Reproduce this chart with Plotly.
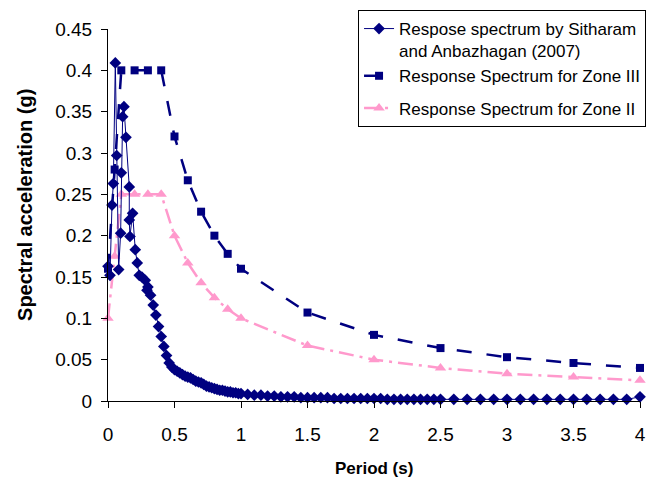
import plotly.graph_objects as go

## periode (s) dan percepatan spektral (g)
t_sitharam = [0.000, 0.015, 0.030, 0.040, 0.055, 0.065, 0.080, 0.095, 0.100, 0.110,
              0.120, 0.135, 0.160, 0.160, 0.165, 0.185, 0.205, 0.220, 0.235, 0.255,
              0.280, 0.293,
              0.30, 0.32, 0.34, 0.36, 0.38, 0.40, 0.42, 0.44, 0.46, 0.48,
              0.50, 0.52, 0.54, 0.56, 0.58, 0.60, 0.62, 0.64, 0.66, 0.68,
              0.70, 0.72, 0.74, 0.76, 0.78, 0.80, 0.82, 0.84, 0.86, 0.88,
              0.90, 0.92, 0.94, 0.96, 0.98, 1.00,
              1.05, 1.10, 1.15, 1.20, 1.25, 1.30, 1.35, 1.40, 1.45, 1.50,
              1.55, 1.60, 1.65, 1.70, 1.75, 1.80, 1.85, 1.90, 1.95, 2.00,
              2.05, 2.10, 2.15, 2.20, 2.25, 2.30, 2.35, 2.40, 2.45, 2.50,
              2.6, 2.7, 2.8, 2.9, 3.0, 3.1, 3.2, 3.3, 3.4, 3.5, 3.6, 3.7, 3.8, 3.9, 4.0]
sa_sitharam = [0.163, 0.152, 0.237, 0.263, 0.409, 0.297, 0.159, 0.203, 0.276, 0.344,
               0.356, 0.319, 0.259, 0.219, 0.199, 0.227, 0.183, 0.167, 0.152, 0.150,
               0.146, 0.134,
               0.138, 0.128, 0.116, 0.104, 0.090, 0.078, 0.066, 0.055, 0.046, 0.041,
               0.038, 0.036, 0.034, 0.032, 0.030, 0.029, 0.028, 0.026, 0.024, 0.023,
               0.022, 0.020, 0.018, 0.017, 0.016, 0.015, 0.014, 0.013, 0.013, 0.012,
               0.011, 0.011, 0.010, 0.010, 0.009, 0.009,
               0.008, 0.007, 0.007, 0.006, 0.006, 0.005, 0.005, 0.005, 0.004, 0.004,
               0.004, 0.004, 0.004, 0.003, 0.003, 0.003, 0.003, 0.003, 0.003, 0.003,
               0.003, 0.002, 0.002, 0.002, 0.002, 0.002, 0.002, 0.002, 0.002, 0.002,
               0.002, 0.002, 0.002, 0.002, 0.002, 0.002, 0.002, 0.002, 0.002, 0.002,
               0.002, 0.002, 0.002, 0.002, 0.005]

t_zone3 = [0, 0.05, 0.1, 0.2, 0.3, 0.4, 0.5, 0.6, 0.7, 0.8, 0.9, 1.0, 1.5, 2.0, 2.5, 3.0, 3.5, 4.0]
sa_zone3 = [0.16, 0.28, 0.40, 0.40, 0.40, 0.40, 0.32, 0.267, 0.229, 0.20, 0.178, 0.16,
            0.107, 0.08, 0.064, 0.053, 0.046, 0.04]

t_zone2 = [0, 0.05, 0.1, 0.2, 0.3, 0.4, 0.5, 0.6, 0.7, 0.8, 0.9, 1.0, 1.5, 2.0, 2.5, 3.0, 3.5, 4.0]
sa_zone2 = [0.10, 0.175, 0.25, 0.25, 0.25, 0.25, 0.20, 0.167, 0.143, 0.125, 0.111, 0.10,
            0.067, 0.05, 0.04, 0.033, 0.029, 0.025]

navy = '#000080'
pink = '#FF99CC'

zona2 = go.Scatter(
    x=t_zone2, y=sa_zone2,
    mode='lines+markers',
    name='Response Spectrum for Zone II',
    line=dict(color=pink, width=2.5, dash='longdashdot'),
    marker=dict(symbol='triangle-up', size=10, color=pink),
    cliponaxis=False,
    legendrank=3, legendgroup='b',
)
zona3 = go.Scatter(
    x=t_zone3, y=sa_zone3,
    mode='lines+markers',
    name='Response Spectrum for Zone III',
    line=dict(color=navy, width=2.5, dash='longdash'),
    marker=dict(symbol='square', size=8, color=navy),
    cliponaxis=False,
    legendrank=2, legendgroup='a',
)
sitharam = go.Scatter(
    x=t_sitharam, y=sa_sitharam,
    mode='lines+markers',
    name='Respose spectrum by Sitharam<br>and Anbazhagan (2007)',
    line=dict(color=navy, width=1),
    marker=dict(symbol='diamond', size=9, color=navy),
    cliponaxis=False,
    legendrank=1, legendgroup='a',
)

fig = go.Figure(data=[zona2, zona3, sitharam])

## halaman html punya margin body 8px, jadi ukuran dikurangi
fig.update_layout(
    width=646, height=481,
    margin=dict(l=100, r=14, t=21, b=88, autoexpand=False),
    paper_bgcolor='white',
    plot_bgcolor='white',
    font=dict(family='Liberation Sans, Arial, sans-serif', size=19, color='black'),
    legend=dict(
        x=0.47, y=1.051, xanchor='left', yanchor='top',
        bgcolor='white', bordercolor='black', borderwidth=1,
        font=dict(size=17), valign='top', tracegroupgap=7,
    ),
    annotations=[
        dict(text='<b>Period (s)</b>', xref='paper', yref='paper',
             x=0.5, y=-67 / 372, xanchor='center', yanchor='middle',
             showarrow=False, font=dict(size=17)),
        dict(text='<b>Spectral acceleration (g)</b>', xref='paper', yref='paper',
             x=-83 / 532, y=0.527, xanchor='center', yanchor='middle', textangle=-90,
             showarrow=False, font=dict(size=20)),
    ],
)
fig.update_xaxes(
    range=[0, 4], tick0=0, dtick=0.5, automargin=False,
    showline=True, linecolor='black', linewidth=1,
    ticks='outside', ticklen=6, tickcolor='black', ticklabelstandoff=10,
    showgrid=False, zeroline=False,
)
fig.update_yaxes(
    range=[0, 0.45], tick0=0, dtick=0.05, automargin=False,
    showline=True, linecolor='black', linewidth=1,
    ticks='outside', ticklen=6, tickcolor='black', ticklabelstandoff=5,
    showgrid=False, zeroline=False,
)

fig.write_html('out.html')
